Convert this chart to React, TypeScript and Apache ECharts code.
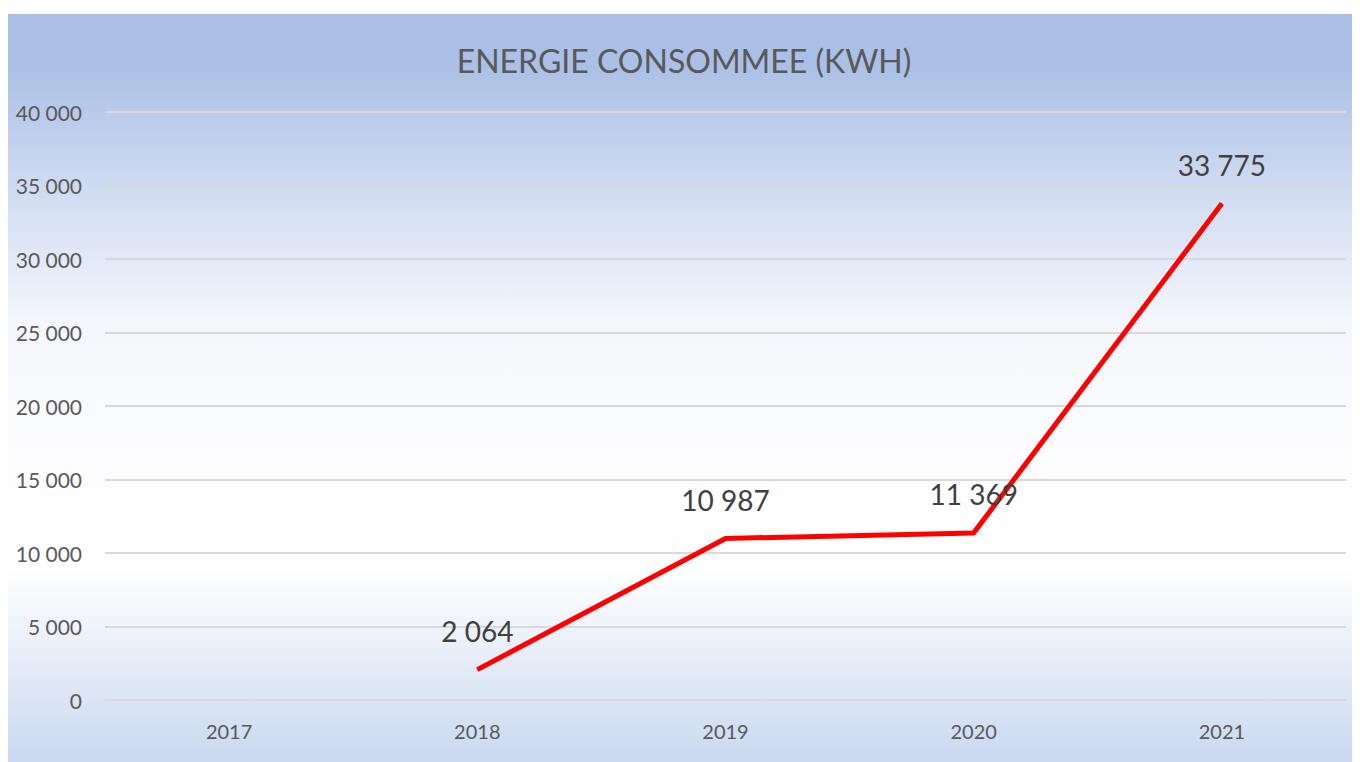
import React, { useEffect, useRef } from "react";
import * as echarts from "echarts";

const categories = ["2017", "2018", "2019", "2020", "2021"];
const energyKwh: (number | null)[] = [null, 2064, 10987, 11369, 33775];
const yTicks = { min: 0, max: 40000, interval: 5000 };
const titleText = "ENERGIE CONSOMMEE (KWH)";

const fmt = (v: number) => String(Math.round(v)).replace(/\B(?=(\d{3})+(?!\d))/g, " ");

export default function App() {
  const ref = useRef<HTMLDivElement>(null);
  useEffect(() => {
    if (!ref.current) return;
    const chart = echarts.init(ref.current, null, { renderer: "svg" });
    const font = "Lato, 'Open Sans', sans-serif";
    chart.setOption({
      animation: false,
      backgroundColor: new echarts.graphic.LinearGradient(0, 0, 0, 1, [
        { offset: 0, color: "#aabfe6" },
        { offset: 0.07, color: "#abc0e6" },
        { offset: 0.25, color: "#d3def2" },
        { offset: 0.42, color: "#f5f7fc" },
        { offset: 0.6, color: "#fdfdff" },
        { offset: 0.74, color: "#ffffff" },
        { offset: 1, color: "#cad8f0" },
      ]),
      title: {
        text: titleText,
        left: "center",
        top: 25,
        textStyle: { fontFamily: font, fontSize: 32, fontWeight: "normal", color: "#595959" },
      },
      grid: { left: 97, right: 14, top: 98, bottom: 62 },
      xAxis: {
        type: "category",
        data: categories,
        boundaryGap: true,
        axisLine: { show: true, lineStyle: { color: "#d9d9d9", width: 2 } },
        axisTick: { show: false },
        axisLabel: { color: "#595959", fontSize: 20, fontFamily: font, margin: 21 },
      },
      yAxis: {
        type: "value",
        min: yTicks.min,
        max: yTicks.max,
        interval: yTicks.interval,
        axisLine: { show: false },
        axisTick: { show: false },
        splitLine: { lineStyle: { color: "#d9d9d9", width: 2 } },
        axisLabel: { color: "#595959", fontSize: 21, fontFamily: font, margin: 23, formatter: (v: number) => fmt(v) },
      },
      series: [
        {
          type: "line",
          data: energyKwh,
          showSymbol: true,
          symbol: "circle",
          symbolSize: 1,
          itemStyle: { color: "#ff0000" },
          lineStyle: { color: "#ff0000", width: 5 },
          label: {
            show: true,
            position: "top",
            distance: 24,
            color: "#404040",
            fontSize: 28,
            fontFamily: font,
            formatter: (p: any) => fmt(p.value),
          },
        },
      ],
    });
    return () => chart.dispose();
  }, []);
  return <div ref={ref} style={{ width: 1352, height: 748, marginTop: 6 }} />;
}
